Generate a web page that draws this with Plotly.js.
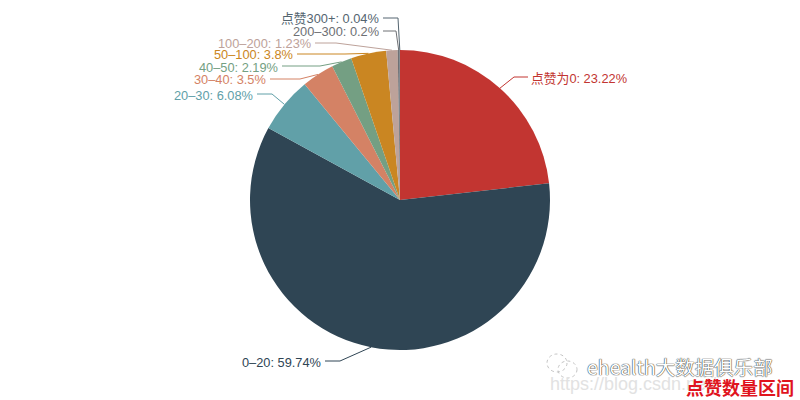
<!DOCTYPE html>
<html>
<head>
<meta charset="utf-8">
<script src="https://cdn.plot.ly/plotly-3.0.1.min.js"></script>
<style>html,body{margin:0;padding:0;background:#fff}</style>
</head>
<body>
<div id="chart" style="width:800px;height:400px"></div>
<script>
const categories = ['点赞为0','0–20','20–30','30–40','40–50','50–100','100–200','200–300','点赞300+'];
const values = [23.22,59.74,6.08,3.5,2.19,3.8,1.23,0.2,0.04];
const colors = ['#c23531','#2f4554','#61a0a8','#d48265','#749f83','#ca8622','#bda29a','#6e7074','#546570'];
// label placement in pixels: text end x, text y, elbow x of the leader line
const labelX = [531,321,253,266,278,293,311,379,379];
const labelY = [78,362,95,80,67,55,44,32,19];
const elbowX = [514,340,272,300,320,345,336,396,398];

const W = 800, H = 400, CX = 400, CY = 200, R = 150;
const px = x => x / W, py = y => 1 - y / H;
const total = values.reduce((a, b) => a + b, 0);

const annotations = [], shapes = [];
let cum = 0;
const font = '"Liberation Sans", "Noto Sans CJK SC", sans-serif';
const cjk = '"Noto Sans CJK SC", "Noto Sans", sans-serif';
values.forEach((v, i) => {
  const a = (cum + v / 2) / total * 2 * Math.PI;
  cum += v;
  const ex = CX + R * Math.sin(a), ey = CY - R * Math.cos(a);
  const right = i === 0;
  annotations.push({
    xref: 'paper', yref: 'paper', x: px(labelX[i]), y: py(labelY[i]),
    xanchor: right ? 'left' : 'right', yanchor: 'middle',
    text: categories[i] + ': ' + v + '%', showarrow: false, borderpad: 0, borderwidth: 0,
    font: {family: font, size: 12.8, color: colors[i]}
  });
  const sx = right ? labelX[i] - 3 : labelX[i] + 4;
  const ly = labelY[i] - 1;
  shapes.push({
    type: 'path', xref: 'paper', yref: 'paper',
    path: `M${px(sx)},${py(ly)} L${px(elbowX[i])},${py(ly)} L${px(ex)},${py(ey)}`,
    line: {color: colors[i], width: 1}
  });
});

// watermark
annotations.push({xref:'paper',yref:'paper',x:px(548),y:py(384),xanchor:'left',yanchor:'middle',showarrow:false,
  text:'https://blog.csdn.net/',font:{family:'"Liberation Sans", sans-serif',size:18,color:'#e2e2e2'}});
annotations.push({xref:'paper',yref:'paper',x:px(585),y:py(366),xanchor:'left',yanchor:'middle',showarrow:false,
  text:'ehealth大数据俱乐部',font:{family:cjk,size:19.5,color:'#ffffff',shadow:'0px 0px 1px #222, 0px 0px 1px #222'}});
annotations.push({xref:'paper',yref:'paper',x:px(796),y:py(387),xanchor:'right',yanchor:'middle',showarrow:false,
  text:'<b>点赞数量区间</b>',font:{family:cjk,size:18,color:'#e0141e'}});
const bubble = (x0,y0,x1,y1) => ({type:'circle',xref:'paper',yref:'paper',x0:px(x0),y0:py(y0),x1:px(x1),y1:py(y1),
  line:{color:'#c4c4c4',width:1,dash:'dot'},fillcolor:'rgba(255,255,255,0)'});
shapes.push(bubble(547,354,567,372), bubble(558,361,577,378));

Plotly.newPlot('chart', [{
  type: 'pie',
  labels: categories,
  values: values,
  sort: false,
  direction: 'clockwise',
  rotation: 0,
  textinfo: 'none',
  marker: {colors: colors, line: {width: 0}},
  domain: {x: [0.125, 0.875], y: [0.125, 0.875]},
  showlegend: false
}], {
  width: W, height: H,
  margin: {l: 0, r: 0, t: 0, b: 0},
  paper_bgcolor: '#ffffff',
  showlegend: false,
  annotations: annotations,
  shapes: shapes
}, {displayModeBar: false});
</script>
</body>
</html>
